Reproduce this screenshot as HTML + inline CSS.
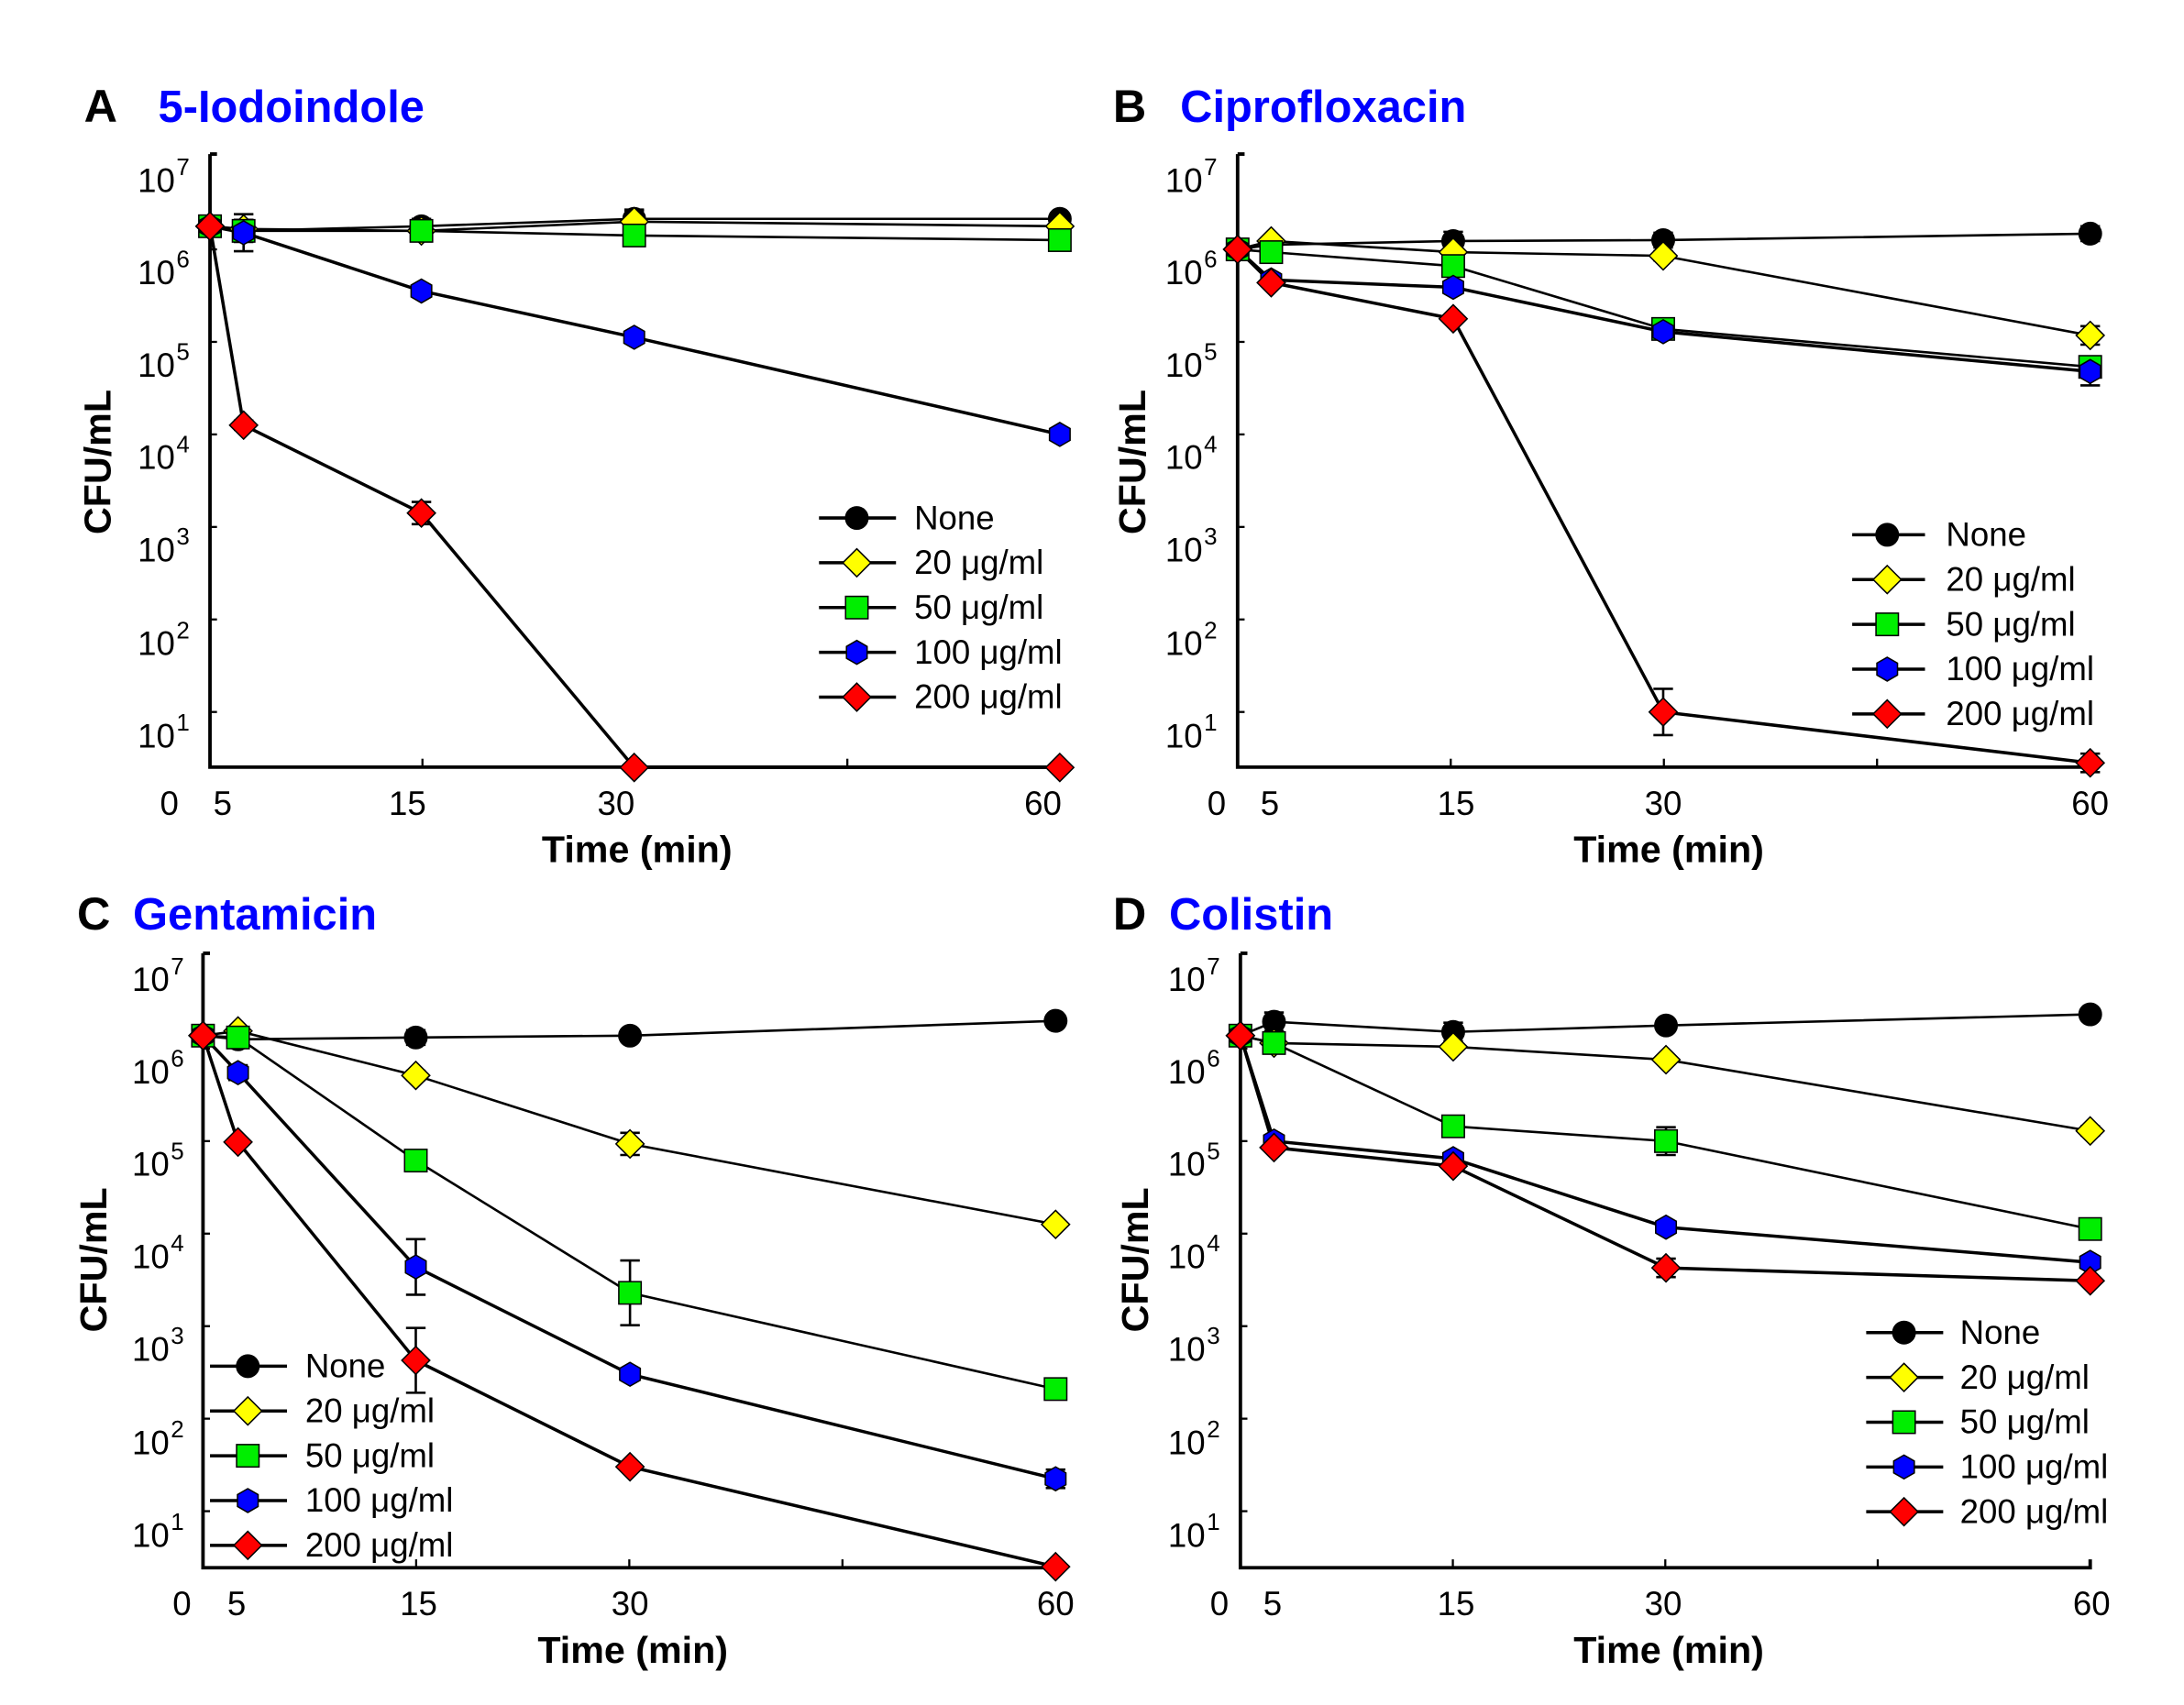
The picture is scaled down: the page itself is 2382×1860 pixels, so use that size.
<!DOCTYPE html>
<html><head><meta charset="utf-8"><style>
html,body{margin:0;padding:0;background:#fff}
svg{display:block}
text{font-family:"Liberation Sans",Arial,sans-serif}
.t{font-size:24px}
.sup{font-size:17px}
.b{font-weight:bold}
</style></head><body>
<svg id="s" width="2382" height="1860" viewBox="0 0 1560 1218" xmlns="http://www.w3.org/2000/svg">
<rect width="1560" height="1218" fill="#fff"/>
<!-- titles -->
<text x="60" y="87" font-size="33" class="b">A</text><text x="113" y="87" font-size="32" class="b" fill="#0000ff">5-Iodoindole</text>
<text x="795" y="87" font-size="33" class="b">B</text><text x="843" y="87" font-size="32" class="b" fill="#0000ff">Ciprofloxacin</text>
<text x="55" y="664" font-size="33" class="b">C</text><text x="95" y="664" font-size="32" class="b" fill="#0000ff">Gentamicin</text>
<text x="795" y="664" font-size="33" class="b">D</text><text x="835" y="664" font-size="32" class="b" fill="#0000ff">Colistin</text>
<!-- axis titles -->
<text x="455" y="616" font-size="27" class="b" text-anchor="middle">Time (min)</text>
<text x="1192" y="616" font-size="27" class="b" text-anchor="middle">Time (min)</text>
<text x="452" y="1188" font-size="27" class="b" text-anchor="middle">Time (min)</text>
<text x="1192" y="1188" font-size="27" class="b" text-anchor="middle">Time (min)</text>
<text transform="translate(79,330) rotate(-90)" font-size="27" class="b" text-anchor="middle">CFU/mL</text>
<text transform="translate(818,330) rotate(-90)" font-size="27" class="b" text-anchor="middle">CFU/mL</text>
<text transform="translate(76,900) rotate(-90)" font-size="27" class="b" text-anchor="middle">CFU/mL</text>
<text transform="translate(820,900) rotate(-90)" font-size="27" class="b" text-anchor="middle">CFU/mL</text>
<!-- x tick labels -->
<g class="t" text-anchor="middle">
<text x="121" y="582">0</text><text x="159" y="582">5</text><text x="291" y="582">15</text><text x="440" y="582">30</text><text x="745" y="582">60</text>
<text x="869" y="582">0</text><text x="907" y="582">5</text><text x="1040" y="582">15</text><text x="1188" y="582">30</text><text x="1493" y="582">60</text>
<text x="130" y="1154">0</text><text x="169" y="1154">5</text><text x="299" y="1154">15</text><text x="450" y="1154">30</text><text x="754" y="1154">60</text>
<text x="871" y="1154">0</text><text x="909" y="1154">5</text><text x="1040" y="1154">15</text><text x="1188" y="1154">30</text><text x="1494" y="1154">60</text>
</g>
<!-- y tick labels -->
<g class="t" text-anchor="end">
<text x="125" y="137">10</text><text x="125" y="203">10</text><text x="125" y="269">10</text><text x="125" y="335">10</text><text x="125" y="401">10</text><text x="125" y="468">10</text><text x="125" y="534">10</text>
<text x="859" y="137">10</text><text x="859" y="203">10</text><text x="859" y="269">10</text><text x="859" y="335">10</text><text x="859" y="401">10</text><text x="859" y="468">10</text><text x="859" y="534">10</text>
<text x="121" y="708">10</text><text x="121" y="774">10</text><text x="121" y="840">10</text><text x="121" y="906">10</text><text x="121" y="972">10</text><text x="121" y="1039">10</text><text x="121" y="1105">10</text>
<text x="861" y="708">10</text><text x="861" y="774">10</text><text x="861" y="840">10</text><text x="861" y="906">10</text><text x="861" y="972">10</text><text x="861" y="1039">10</text><text x="861" y="1105">10</text>
</g>
<g class="sup">
<text x="126" y="125">7</text><text x="126" y="191">6</text><text x="126" y="257">5</text><text x="126" y="323">4</text><text x="126" y="389">3</text><text x="126" y="456">2</text><text x="126" y="522">1</text>
<text x="860" y="125">7</text><text x="860" y="191">6</text><text x="860" y="257">5</text><text x="860" y="323">4</text><text x="860" y="389">3</text><text x="860" y="456">2</text><text x="860" y="522">1</text>
<text x="122" y="696">7</text><text x="122" y="762">6</text><text x="122" y="828">5</text><text x="122" y="894">4</text><text x="122" y="960">3</text><text x="122" y="1027">2</text><text x="122" y="1093">1</text>
<text x="862" y="696">7</text><text x="862" y="762">6</text><text x="862" y="828">5</text><text x="862" y="894">4</text><text x="862" y="960">3</text><text x="862" y="1027">2</text><text x="862" y="1093">1</text>
</g>
<!-- legends text -->
<g class="t" font-size="22">
<text x="653" y="378">None</text><text x="653" y="410">20 μg/ml</text><text x="653" y="442">50 μg/ml</text><text x="653" y="474">100 μg/ml</text><text x="653" y="506">200 μg/ml</text>
<text x="1390" y="390">None</text><text x="1390" y="422">20 μg/ml</text><text x="1390" y="454">50 μg/ml</text><text x="1390" y="486">100 μg/ml</text><text x="1390" y="518">200 μg/ml</text>
<text x="218" y="984">None</text><text x="218" y="1016">20 μg/ml</text><text x="218" y="1048">50 μg/ml</text><text x="218" y="1080">100 μg/ml</text><text x="218" y="1112">200 μg/ml</text>
<text x="1400" y="960">None</text><text x="1400" y="992">20 μg/ml</text><text x="1400" y="1024">50 μg/ml</text><text x="1400" y="1056">100 μg/ml</text><text x="1400" y="1088">200 μg/ml</text>
</g>
<g id="g"></g>
</svg>
<script>
var NS="http://www.w3.org/2000/svg",G=document.getElementById('g');
function el(n,a){var e=document.createElementNS(NS,n);for(var k in a)e.setAttribute(k,a[k]);G.appendChild(e);return e;}
var cols=['#000','#ffff00','#00ee00','#0000ff','#ff0000'];
function mk(t,x,y){var c=cols[t];
 if(t==0)el('circle',{cx:x,cy:y,r:8,fill:c,stroke:'#000','stroke-width':1});
 else if(t==1||t==4)el('polygon',{points:(x)+','+(y-10)+' '+(x+10)+','+y+' '+x+','+(y+10)+' '+(x-10)+','+y,fill:c,stroke:'#000','stroke-width':1});
 else if(t==2)el('rect',{x:x-8,y:y-8,width:16,height:16,fill:c,stroke:'#000','stroke-width':1});
 else {var p=[];for(var i=0;i<6;i++){var a=Math.PI/6+i*Math.PI/3;p.push((x+8.5*Math.cos(a))+','+(y+8.5*Math.sin(a)));}el('polygon',{points:p.join(' '),fill:c,stroke:'#000','stroke-width':1});}
}
var P=[
 {xs:[150,174,301,453,757],y0:112,bot:548,
  d:[[6.25,6.2,6.25,6.33,6.33],[6.25,6.22,6.2,6.3,6.25],[6.25,6.2,6.2,6.15,6.1],[6.25,6.18,5.55,5.05,4.0],[6.25,4.1,3.15,0.4,0.4]],
  eb:[[0,.12,.08,.1,.05],[0,.1,0,.12,0],[0,0,.1,.05,0],[0,.2,0,.05,0],[0,.05,.12,0,0]],
  lg:[585,640,612,370]},
 {xs:[884,908,1038,1188,1493],y0:112,bot:548,
  d:[[6.0,6.05,6.09,6.1,6.17],[6.0,6.09,5.97,5.93,5.07],[6.0,5.97,5.82,5.14,4.73],[6.0,5.67,5.59,5.11,4.68],[6.0,5.64,5.25,1.0,0.45]],
  eb:[[0,.05,.1,.08,.08],[0,0,0,.05,.1],[0,0,0,.05,.05],[0,0,0,0,.15],[0,0,0,.25,.1]],
  lg:[1323,1375,1348,382]},
 {xs:[145,170,297,450,754],y0:683,bot:1120,
  d:[[6.14,6.1,6.12,6.14,6.3],[6.14,6.19,5.71,4.97,4.1],[6.14,6.12,4.79,3.36,2.32],[6.14,5.74,3.64,2.48,1.35],[6.14,4.99,2.63,1.48,0.4]],
  eb:[[0,0,.08,.06,0],[0,0,.05,.12,0],[0,.1,.05,.35,0],[0,.08,.3,0,.1],[0,0,.35,0,0]],
  lg:[150,205,177,976]},
 {xs:[886,910,1038,1190,1493],y0:683,bot:1120,
  d:[[6.14,6.29,6.18,6.25,6.37],[6.14,6.06,6.02,5.88,5.11],[6.14,6.06,5.16,5.0,4.05],[6.14,5.0,4.81,4.07,3.69],[6.14,4.93,4.73,3.63,3.49]],
  eb:[[0,.1,.1,0,0],[0,.08,0,0,.05],[0,.1,0,.15,.1],[0,0,0,0,0],[0,0,0,.1,0]],
  lg:[1333,1388,1360,952]}
];
P.forEach(function(p){
 var Y=function(v){return p.y0+(7-v)*66.1;};
 var ax=p.xs[0],ar=p.xs[4];
 el('path',{d:'M'+ax+' '+(p.y0-2)+' H'+(ax+5)+' M'+ax+' '+(p.y0-2)+' V'+p.bot+' H'+ar+' V'+(p.bot-6),stroke:'#000','stroke-width':2.5,fill:'none'});
 for(var v=1;v<=6;v++)el('line',{x1:ax,x2:ax+5,y1:Y(v),y2:Y(v),stroke:'#000','stroke-width':1.5});
 [15,30,45].forEach(function(m){var x=ax+(ar-ax)*m/60;el('line',{x1:x,x2:x,y1:p.bot,y2:p.bot-6,stroke:'#000','stroke-width':1.5});});
 for(var s=0;s<5;s++){
  var pts=p.d[s].map(function(v,i){return p.xs[i]+','+Y(v);}).join(' ');
  el('polyline',{points:pts,fill:'none',stroke:'#000','stroke-width':(s==4||s==3)?2.3:1.7});
 }
 for(var s=0;s<5;s++)for(var i=0;i<5;i++){var e=p.eb[s][i];if(e>0){var x=p.xs[i],y1=Y(p.d[s][i]+e),y2=Y(p.d[s][i]-e);
   el('path',{d:'M'+x+' '+y1+' V'+y2+' M'+(x-7)+' '+y1+' H'+(x+7)+' M'+(x-7)+' '+y2+' H'+(x+7),stroke:'#000','stroke-width':1.7,fill:'none'});}}
 for(var s=0;s<5;s++)for(var i=4;i>=0;i--)mk(s,p.xs[i],Y(p.d[s][i]));
 var L=p.lg;for(var s=0;s<5;s++){var y=L[3]+s*32;el('line',{x1:L[0],x2:L[1],y1:y,y2:y,stroke:'#000','stroke-width':2.3});mk(s,L[2],y);}
});
</script>
</body></html>
